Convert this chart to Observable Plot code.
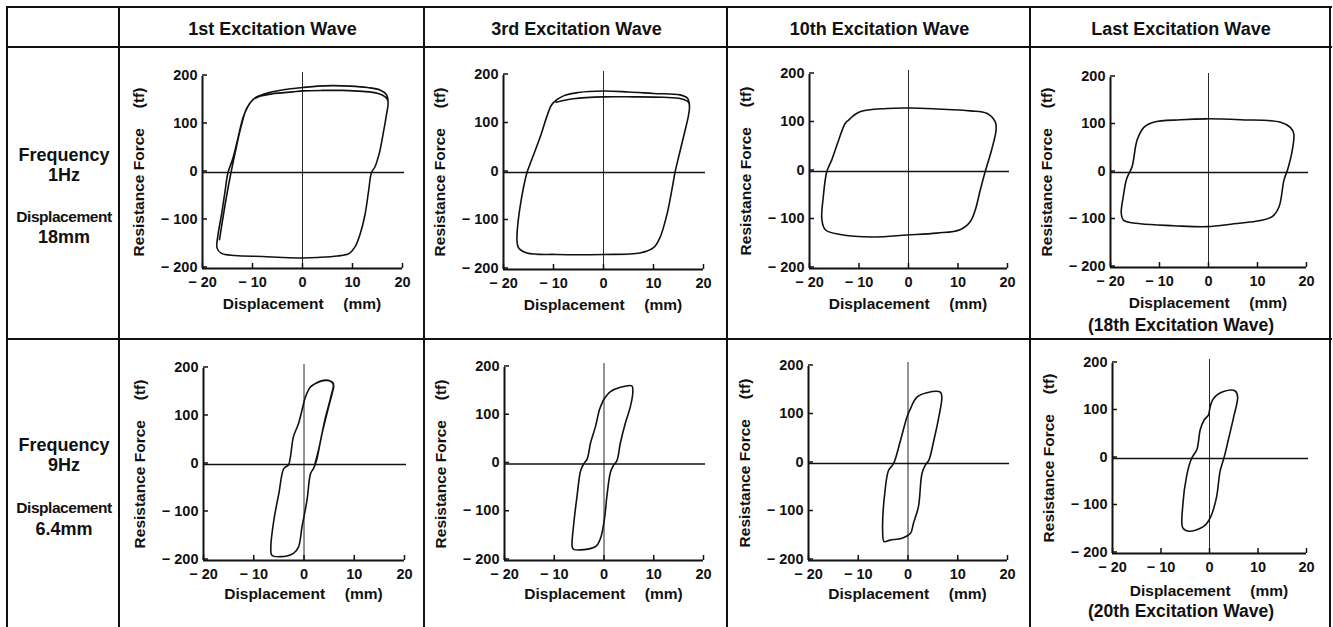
<!DOCTYPE html>
<html><head><meta charset="utf-8">
<script src="https://cdn.jsdelivr.net/npm/d3@7"></script>
<script src="https://cdn.jsdelivr.net/npm/@observablehq/plot@0.6"></script>
<style>
html,body{margin:0;padding:0;background:#fff;}
#page{position:relative;width:1333px;height:627px;overflow:hidden;font-family:"Liberation Sans",Arial,sans-serif;color:#111;}
.hl{position:absolute;height:2px;background:#111;}
.vl{position:absolute;width:2px;background:#111;}
.t{position:absolute;font-weight:bold;white-space:pre;transform:translate(-50%,-50%);line-height:1;}
.p{position:absolute;}
</style></head><body><div id="page"></div>
<script>
// ---------- data ----------
const columnTitles = ["1st Excitation Wave", "3rd Excitation Wave", "10th Excitation Wave", "Last Excitation Wave"];
const rowFrequency = ["1Hz", "9Hz"];
const rowDisplacement = ["18mm", "6.4mm"];
const lastWaveNotes = ["(18th Excitation Wave)", "(20th Excitation Wave)"];
const xDomain = [-20, 20];
const yDomain = [-200, 200];
const xTicks = [-20, -10, 0, 10, 20];
const yTicks = [-200, -100, 0, 100, 200];
const xTitle = "Displacement\u2003 (mm)";
const yTitle = "Resistance Force\u2003 (tf)";

// hysteresis loops [displacement mm, force tf]
const loop1Hz1st = [[-16.6,-140],[-16.0,-100],[-15.2,-50],[-14.3,0],[-13.5,40],[-12.3,95],[-11.2,133],[-10.0,151],[-8.8,158],[-6,164],[-2,168],[0,170],[4,171],[8,171],[12,169],[15,165],[16.6,157],[17.1,148],
  [16.7,115],[16.2,85],[15.4,42],[14.5,12],[13.8,0],[13.2,-40],[12.5,-88],[11.5,-129],[10.5,-155],[9.3,-169],[7,-174],[3,-177],[0,-178],[-4,-177],[-8,-175],[-13.5,-173],[-16.3,-168],[-17.1,-157],[-16.9,-130],[-16.2,-88],[-15.5,-40],[-14.9,0],[-13.9,30],[-12.9,72],[-11.9,114],[-10.9,138],[-9.8,153],[-8.6,160],[-6.5,167],[-3.5,173],[0,177],[3,180],[6,181],[9.5,180],[13,177],[15.5,172],[16.8,162],[17.1,150]];
const loop1Hz3rd = [[-9.5,145],[-6,152],[0,156],[6,156],[12,155],[15.5,152],[17,145],[17.2,135],
  [17.0,118],[16.3,86],[15.0,31],[14.3,0],[14.0,-17],[12.7,-86],[11.3,-134],[10,-155],[7.3,-166],[0,-169],[-9.3,-169],[-15.3,-166],[-17,-155],[-17.3,-141],[-17.2,-114],[-16.7,-72],[-16,-31],[-15.3,0],[-14.7,17],[-12.7,72],[-11,125],[-10.2,142],[-8,158],[-5,165],[0,168],[5,166],[10,163],[15.3,160],[16.8,153],[17.2,138]];
const loop1Hz10th = [[-12.1,106],[-9.8,123],[-4.4,130],[0.3,131],[5.7,129],[12.5,125],[15.8,120],[17.5,103],[17.7,86],[16.8,45],[15.5,0],[14.5,-38],[13.5,-79],[12.5,-103],[10.4,-120],[5.7,-127],[-0.3,-131],[-7.1,-135],[-13.8,-130],[-16.8,-120],[-17.5,-99],[-17.2,-51],[-16.5,0],[-15.5,24],[-14.1,65],[-12.8,99],[-12.1,106]];
const loop1HzLast = [[-14.6,68],[-13.2,95],[-11.2,106],[-5.7,111],[-0.3,113],[6.5,111],[14.7,106],[16.7,95],[17.4,82],[17.1,47],[16.2,8],[15.4,-16],[14.4,-72],[13,-93],[10.6,-101],[5.2,-108],[-0.3,-114],[-7.1,-112],[-13.9,-108],[-17.3,-101],[-17.8,-86],[-17.4,-51],[-16.7,-13],[-15.6,12],[-14.9,54],[-14.6,68]];
const loop9Hz1st = [[1.3,162],[3.3,174],[5.2,174],[5.9,165],[5.6,148],[4.9,120],[3.6,65],[2.5,9],[1.9,-8],[1.3,-19],[0.6,-74],[-0.4,-130],[-1.1,-172],[-2.1,-185],[-4.7,-192],[-6.4,-189],[-6.6,-172],[-6,-116],[-5,-60],[-4,-8],[-3.1,-1],[-2.7,16],[-2.1,58],[-1.1,85],[-0.4,113],[0.3,141],[1.3,162],
  [2.5,170],[4.5,175],[5.8,170],[5.3,140],[4.2,95],[3.0,35],[2.2,2]];
const loop9Hz3rd = [[-0.1,133],[1.3,150],[3.3,159],[5.6,162],[5.8,150],[5.3,119],[4.3,85],[3.3,44],[2.6,7],[1.9,-3],[1.3,-17],[0.6,-65],[0.1,-113],[-0.7,-154],[-1.7,-171],[-6.1,-177],[-6.4,-171],[-6.1,-126],[-5.4,-65],[-4.7,-14],[-4.1,0],[-3.4,10],[-2.7,44],[-1.7,78],[-0.9,113],[-0.1,133]];
const loop9Hz10th = [[0.5,113],[1.8,137],[3.8,146],[6.5,147],[6.8,137],[6.2,96],[5.2,48],[4.2,7],[3.5,-3],[2.8,-21],[2.1,-89],[1.1,-123],[0.5,-144],[-1.2,-154],[-3.6,-158],[-4.8,-161],[-5.1,-137],[-4.6,-55],[-3.9,-14],[-2.9,0],[-1.5,48],[-0.2,96],[0.5,113]];
const loop9HzLast = [[0,102],[0.8,126],[2.9,141],[5.3,142],[5.8,130],[5,88],[3.9,40],[3,2],[2.2,-26],[1.4,-84],[0.1,-126],[-1.2,-143],[-4.3,-153],[-5.5,-146],[-5.5,-98],[-4.7,-36],[-3.7,0],[-2.6,19],[-1.9,61],[-1.1,81],[-0.2,92],[0,102]];

const loops = [[loop1Hz1st, loop1Hz3rd, loop1Hz10th, loop1HzLast], [loop9Hz1st, loop9Hz3rd, loop9Hz10th, loop9HzLast]];

// ---------- layout ----------
const colLines = [7, 119, 424, 727, 1030, 1330];
// plot frame [left, top, width, height] per panel
const frames = [
  [[202,76,200,192],[503,75,200,194],[809,74,198,194],[1110,77,196,190]],
  [[203,368,201,192],[504,367,199,193],[808,366,199,194],[1112,363,194,190]]
];
const page = document.getElementById("page");

function line(cls, x, y, len) {
  const d = document.createElement("div");
  d.className = cls;
  d.style.left = x + "px"; d.style.top = y + "px";
  if (cls === "hl") d.style.width = len + "px"; else d.style.height = len + "px";
  page.appendChild(d);
}
function text(s, x, y, size, extra = {}) {
  const d = document.createElement("div");
  d.className = "t";
  d.textContent = s;
  d.style.left = x + "px"; d.style.top = y + "px"; d.style.fontSize = size + "px";
  Object.assign(d.style, extra);
  page.appendChild(d);
}

// table grid
line("hl", 7, 6, 1325);
line("hl", 7, 46, 1325);
line("hl", 7, 338, 1325);
colLines.forEach(x => line("vl", x - 1, 6, 640));

// headers
columnTitles.forEach((t, i) => text(t, (colLines[i + 1] + colLines[i + 2]) / 2 + 1, 29, 18));

// row labels
const rowCenters = [[155, 175, 217, 237], [445, 465, 508, 529]];
[0, 1].forEach(r => {
  const c = rowCenters[r];
  text("Frequency", 64, c[0], 18);
  text(rowFrequency[r], 64, c[1], 18);
  text("Displacement", 64, c[2], 15.5, {letterSpacing: "-0.45px"});
  text(rowDisplacement[r], 64, c[3], 18);
});

const fmt = d => d < 0 ? "\u2212 " + Math.abs(d) : String(d);
const mL = 90, mR = 25, mT = 20, mB = 40;

loops.forEach((row, r) => row.forEach((loop, c) => {
  const [fx, fy, fw, fh] = frames[r][c];
  const chart = Plot.plot({
    width: fw + mL + mR,
    height: fh + mT + mB,
    marginLeft: mL, marginRight: mR, marginTop: mT, marginBottom: mB,
    x: {domain: xDomain},
    y: {domain: yDomain},
    style: {fontFamily: "Liberation Sans, Arial, sans-serif", fontSize: "14.5px", fontWeight: "bold", background: "transparent", overflow: "visible", color: "#111", maxWidth: "none"},
    marks: [
      Plot.ruleY([0], {stroke: "#111", strokeWidth: 1.4, insetRight: -2}),
      Plot.ruleX([0], {stroke: "#111", strokeWidth: 0.9, insetTop: -4}),
      Plot.ruleX([xDomain[0]], {stroke: "#111", strokeWidth: 2}),
      Plot.ruleY([yDomain[0]], {stroke: "#111", strokeWidth: 2}),
      Plot.axisY(yTicks, {anchor: "left", tickSize: -5, tickPadding: 10, dy: -1.5, tickFormat: fmt, label: null, stroke: "#111", strokeWidth: 1.5}),
      Plot.axisX(xTicks, {anchor: "bottom", tickSize: -5, tickPadding: 13, tickFormat: fmt, label: null, stroke: "#111", strokeWidth: 1.5}),
      Plot.line(loop, {x: d => d[0], y: d => d[1], curve: "catmull-rom", stroke: "#111", strokeWidth: 1.6})
    ]
  });
  const holder = document.createElement("div");
  holder.className = "p";
  holder.style.left = (fx - mL) + "px";
  holder.style.top = (fy - mT) + "px";
  holder.appendChild(chart);
  page.appendChild(holder);

  // axis titles
  text(yTitle, fx - 63, fy + fh / 2, 15.5, {transform: "translate(-50%,-50%) rotate(-90deg)"});
  text(xTitle, fx + fw / 2, fy + fh + (r === 0 ? 36 : (c === 3 ? 38 : 34)), 15.5);
}));

// notes under last-wave panels
text(lastWaveNotes[0], 1181, 326, 17.5);
text(lastWaveNotes[1], 1181, 612, 17.5);
</script></body></html>
